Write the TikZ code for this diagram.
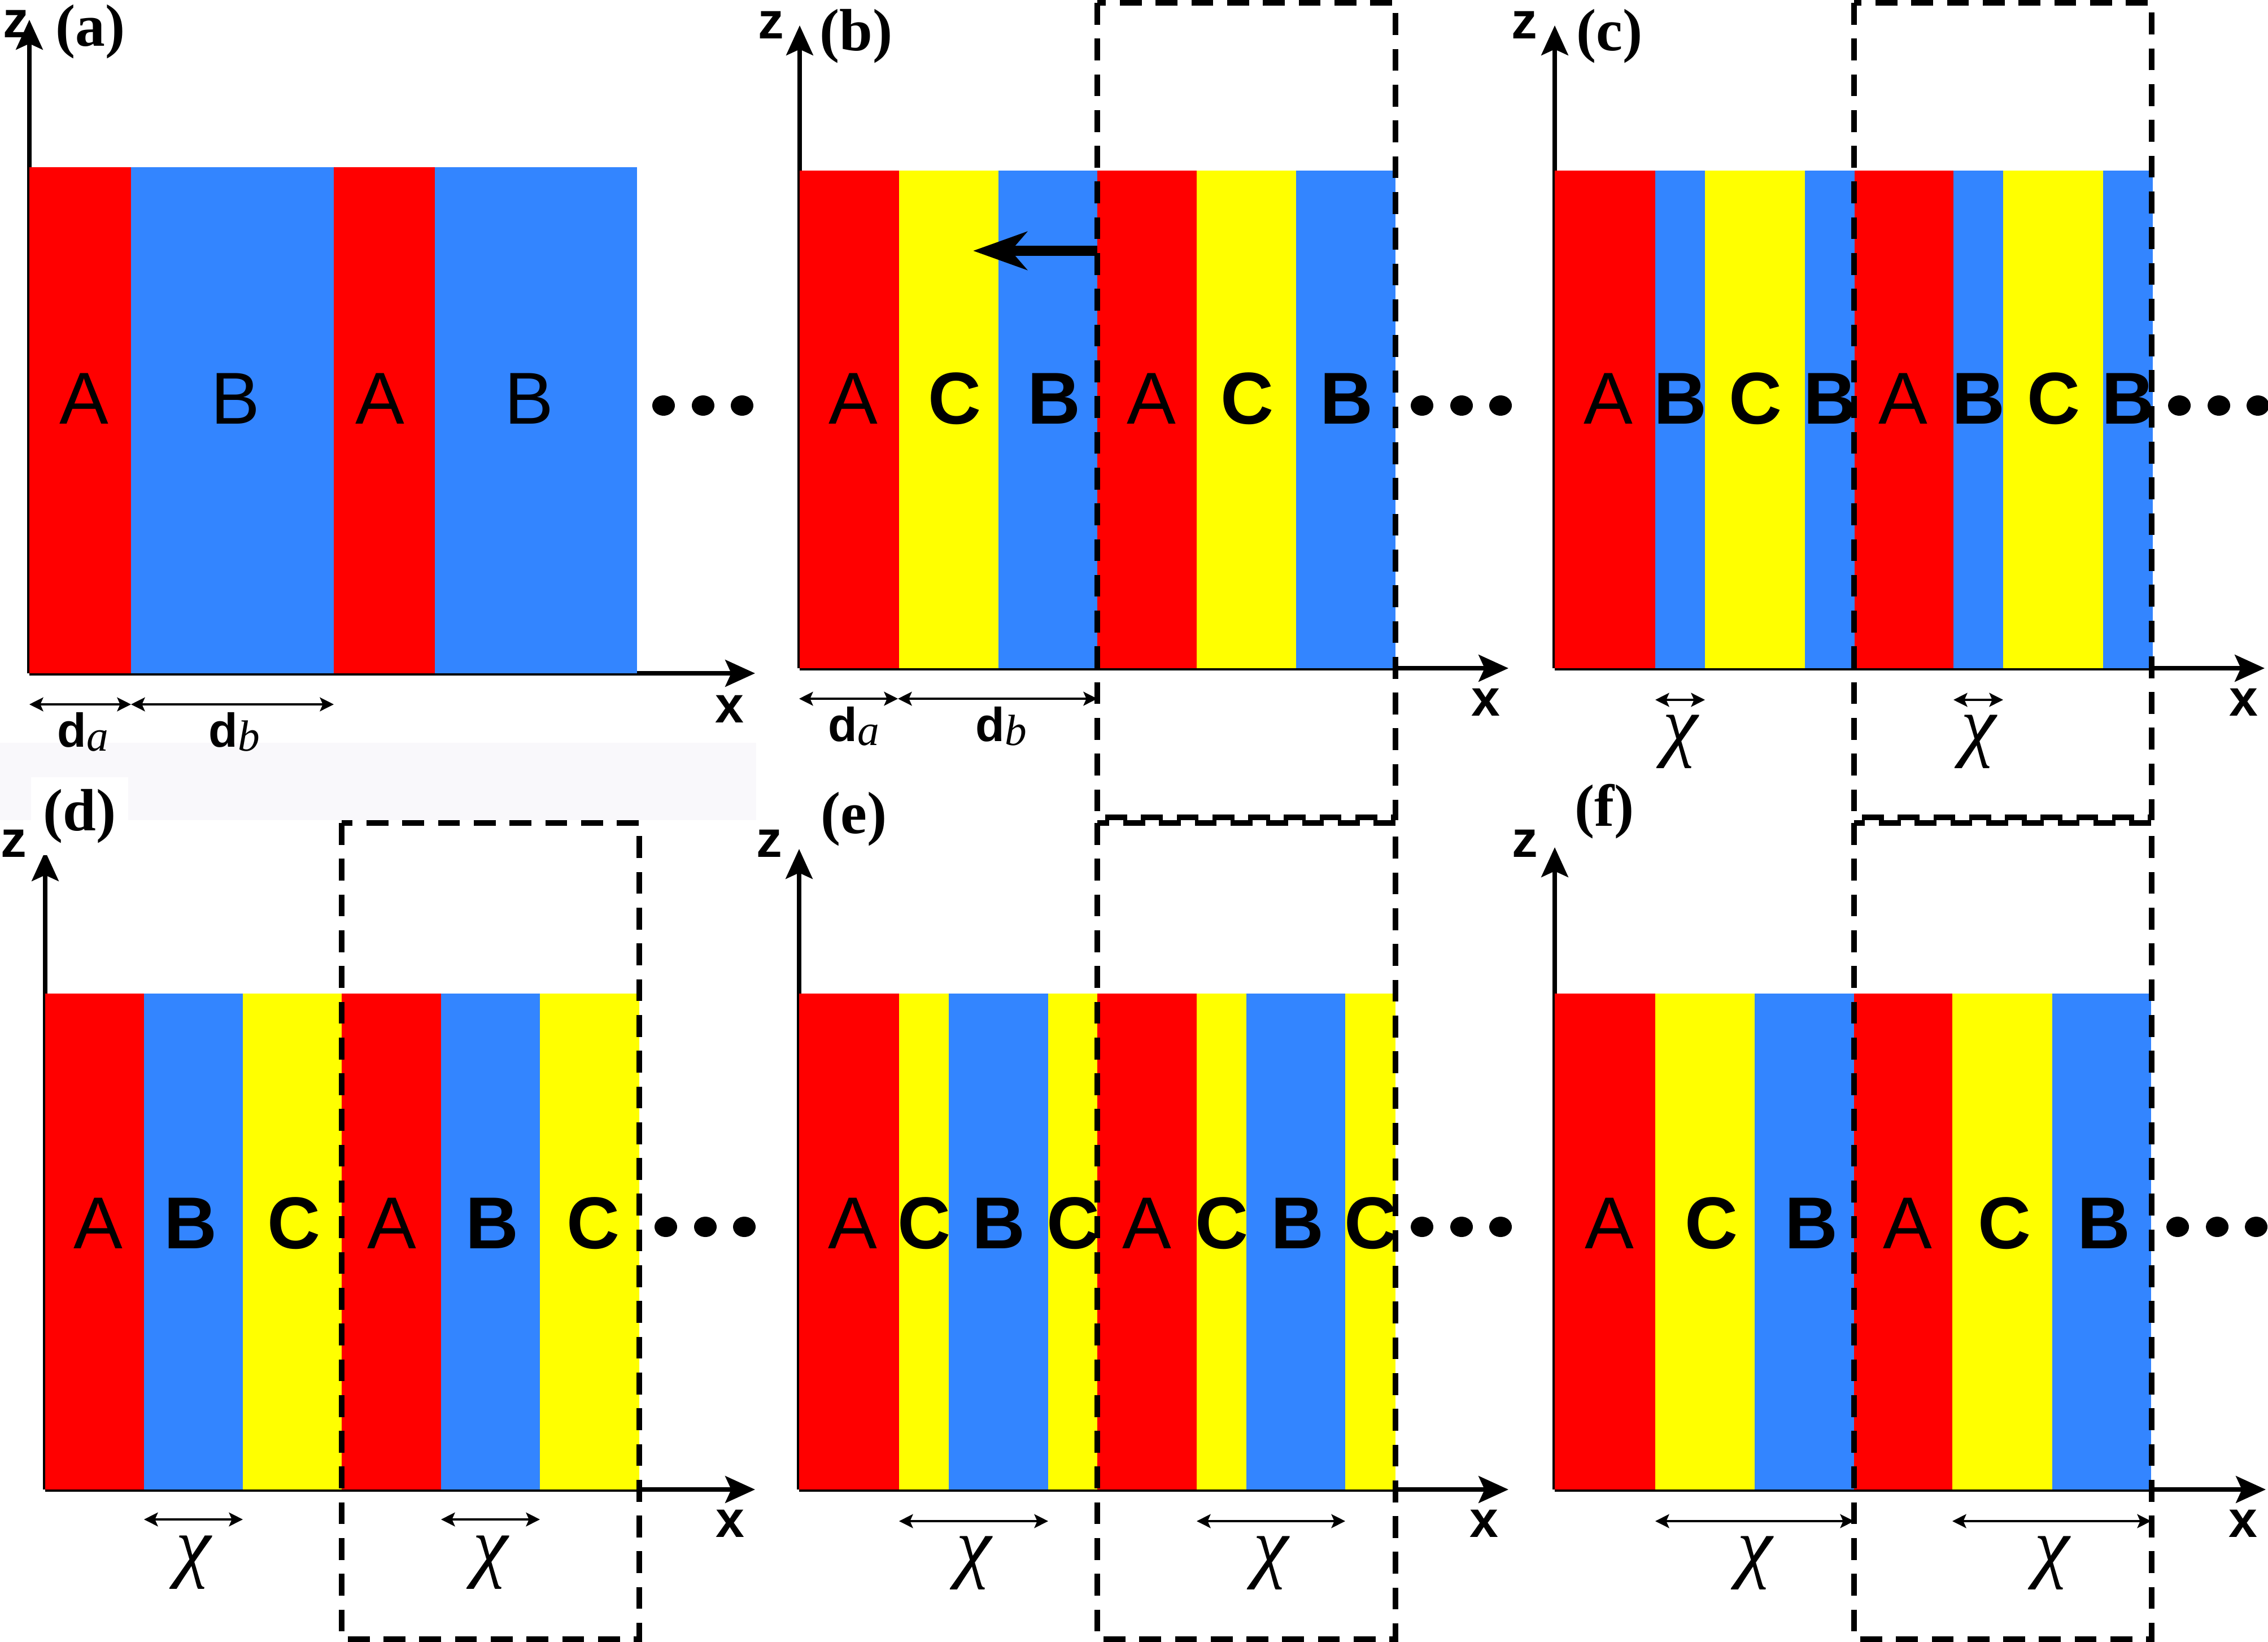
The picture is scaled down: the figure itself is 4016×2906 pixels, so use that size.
\documentclass[tikz,border=0pt]{standalone}
\usepackage{fontspec}
\setmainfont{Liberation Serif}
\setsansfont{Liberation Sans}
\usetikzlibrary{arrows.meta}
\definecolor{sred}{HTML}{FF0000}
\definecolor{sblue}{HTML}{3385FF}
\definecolor{syel}{HTML}{FFFF00}
\definecolor{band}{HTML}{F9F8FB}
\newcommand\dlabtext[1]{{\fontsize{24}{28}\selectfont\sffamily\bfseries d}\raisebox{-2pt}{\fontsize{22}{24}\selectfont\rmfamily\itshape #1}}
\begin{document}
\begin{tikzpicture}[x=0.01cm,y=-0.01cm,
  axis/.style={line width=2.2pt,-{Stealth[length=15pt,width=13.5pt,inset=3pt]}},
  dim/.style={line width=1pt,{Stealth[length=7pt,width=7pt,inset=1.5pt]}-{Stealth[length=7pt,width=7pt,inset=1.5pt]}},
  lab/.style={inner sep=0pt,anchor=base,font=\fontsize{37}{40}\selectfont\sffamily},
  labb/.style={inner sep=0pt,anchor=base,font=\fontsize{37}{40}\selectfont\sffamily\bfseries},
  axlab/.style={inner sep=0pt,font=\fontsize{26}{30}\selectfont\sffamily\bfseries},
  panel/.style={inner sep=0pt,font=\fontsize{30}{34}\selectfont\rmfamily\bfseries},
  chilab/.style={inner sep=0pt,font=\fontsize{40}{44}\selectfont\rmfamily\itshape},
  dlab/.style={inner sep=0pt},
  cellbox/.style={dash pattern=on 11pt off 7pt,line width=2.6pt},
  bigarrow/.style={line width=5.4pt,-{Stealth[length=27pt,width=19pt,inset=8pt]}}
]
\useasboundingbox[fill=white] (0,0) rectangle (4016,2906);
% faint band behind (d)
\fill[band] (0,1315) rectangle (1339,1452);

% ================= axes =================
\foreach \p/\ox/\oy/\zy/\xx in {a/52/1192/35/1337, b/1416/1183/45/2671, c/2753/1183/45/4010,
                                d/80/2637/1507/1337, e/1415/2637/1503/2671, f/2753/2637/1500/4012}{
  \coordinate (\p O) at (\ox,\oy);
  \coordinate (\p Z) at (\ox,\zy);
  \coordinate (\p X) at (\xx,\oy);
  \draw[axis] (\p O) -- (\p Z);
  \draw[axis] (\p O) -- (\p X);
}

% ================= stripes =================
% (a)
\foreach \xa/\xb/\c in {52/232/sred,232/591/sblue,591/770/sred,770/1128/sblue}
  \fill[\c] (\xa,296) rectangle (\xb,1192);
% (b)
\foreach \xa/\xb/\c in {1416/1592/sred,1592/1768/syel,1768/1943/sblue,1943/2119/sred,2119/2295/syel,2295/2471/sblue}
  \fill[\c] (\xa,302) rectangle (\xb,1183);
% (c)
\foreach \xa/\xb/\c in {2753/2931/sred,2931/3019/sblue,3019/3196/syel,3196/3284/sblue,3284/3459/sred,3459/3547/sblue,3547/3724/syel,3724/3812/sblue}
  \fill[\c] (\xa,302) rectangle (\xb,1183);
% (d)
\foreach \xa/\xb/\c in {80/255/sred,255/430/sblue,430/605/syel,605/781/sred,781/956/sblue,956/1132/syel}
  \fill[\c] (\xa,1759) rectangle (\xb,2637);
% (e)
\foreach \xa/\xb/\c in {1415/1592/sred,1592/1680/syel,1680/1856/sblue,1856/1943/syel,1943/2119/sred,2119/2207/syel,2207/2382/sblue,2382/2471/syel}
  \fill[\c] (\xa,1759) rectangle (\xb,2637);
% (f)
\foreach \xa/\xb/\c in {2753/2931/sred,2931/3107/syel,3107/3283/sblue,3283/3457/sred,3457/3634/syel,3634/3809/sblue}
  \fill[\c] (\xa,1759) rectangle (\xb,2637);

% ================= stripe labels =================
\foreach \x/\t [count=\i] in {149/A,417/B,673/A,937/B}
  \node[lab] (aL\i) at (\x,750) {\t};
\foreach \x/\t/\s [count=\i] in {1511/A/lab,1690/C/labb,1866/B/labb,2039/A/lab,2208/C/labb,2384/B/labb}
  \node[\s] (bL\i) at (\x,750) {\t};
\foreach \x/\t/\s [count=\i] in {2848/A/lab,2975/B/labb,3108/C/labb,3240/B/labb,3370/A/lab,3503/B/labb,3636/C/labb,3768/B/labb}
  \node[\s] (cL\i) at (\x,750) {\t};
\foreach \x/\t/\s [count=\i] in {174/A/lab,337/B/labb,520/C/labb,694/A/lab,871/B/labb,1050/C/labb}
  \node[\s] (dL\i) at (\x,2210) {\t};
\foreach \x/\t/\s [count=\i] in {1510/A/lab,1636/C/labb,1768/B/labb,1900/C/labb,2031/A/lab,2163/C/labb,2297/B/labb,2427/C/labb}
  \node[\s] (eL\i) at (\x,2210) {\t};
\foreach \x/\t/\s [count=\i] in {2850/A/lab,3030/C/labb,3207/B/labb,3378/A/lab,3549/C/labb,3725/B/labb}
  \node[\s] (fL\i) at (\x,2210) {\t};

% ================= dots =================
\foreach \p/\e/\y in {a/1128/718, b/2471/718, c/3812/718, d/1132/2172, e/2471/2172, f/3809/2172}{
  \foreach \dx in {47,117,186}
    \fill (\e+\dx,\y) ellipse [x radius=20, y radius=18];
}

% ================= axis labels =================
\foreach \p/\zx/\zy/\xx/\xy in {a/28/42/1292/1255, b/1365/44/2631/1243, c/2699/44/3973/1243,
                               d/24/1493/1293/2697, e/1362/1493/2628/2697, f/2700/1493/3972/2697}{
  \node[axlab] (\p zl) at (\zx,\zy) {z};
  \node[axlab] (\p xl) at (\xx,\xy) {x};
}

% ================= panel labels =================
\node[panel] (pa) at (160,56) {(a)};
\node[panel] (pb) at (1516,64) {(b)};
\node[panel] (pc) at (2850,64) {(c)};
\node[panel,fill=white,inner sep=6pt] (pd) at (141,1445) {(d)};
\node[panel] (pe) at (1512,1450) {(e)};
\node[panel] (pf) at (2841,1437) {(f)};

% ================= d_a, d_b =================
\coordinate (ad0) at (52,1247);  \coordinate (ad1) at (232,1247);  \coordinate (ad2) at (591,1247);
\draw[dim] (ad0) -- (ad1);
\draw[dim] (ad1) -- (ad2);
\node[dlab] (ada) at (147,1296) {\dlabtext{a}};
\node[dlab] (adb) at (415,1296) {\dlabtext{b}};
\coordinate (bd0) at (1415,1237); \coordinate (bd1) at (1590,1237); \coordinate (bd2) at (1943,1237);
\draw[dim] (bd0) -- (bd1);
\draw[dim] (bd1) -- (bd2);
\node[dlab] (bda) at (1512,1286) {\dlabtext{a}};
\node[dlab] (bdb) at (1773,1286) {\dlabtext{b}};

% ================= chi arrows =================
\foreach \p/\xa/\xb/\y/\ly [count=\i] in {c/2931/3019/1239/1313, c/3459/3547/1239/1313,
    d/255/430/2690/2766, d/781/956/2690/2766,
    e/1592/1856/2693/2767, e/2119/2382/2693/2767,
    f/2931/3283/2693/2767, f/3457/3809/2693/2767}{
  \coordinate (chiS\i) at (\xa,\y);
  \coordinate (chiE\i) at (\xb,\y);
  \draw[dim] (chiS\i) -- (chiE\i);
  \node[chilab] (chiL\i) at ({(\xa+\xb)/2},\ly) {χ};
}

% ================= shift arrow in (b) =================
\coordinate (bArS) at (1943,444);
\coordinate (bArE) at (1723,444);
\draw[bigarrow] (bArS) -- (bArE);

% ================= dashed unit cells =================
\draw[cellbox] (1943,5) rectangle (2471,1447);
\draw[cellbox] (3283,5) rectangle (3810,1447);
\draw[cellbox] (605,1457) rectangle (1132,2902);
\draw[cellbox] (1943,1457) rectangle (2471,2902);
\draw[cellbox] (3283,1457) rectangle (3810,2902);
\end{tikzpicture}
\end{document}
